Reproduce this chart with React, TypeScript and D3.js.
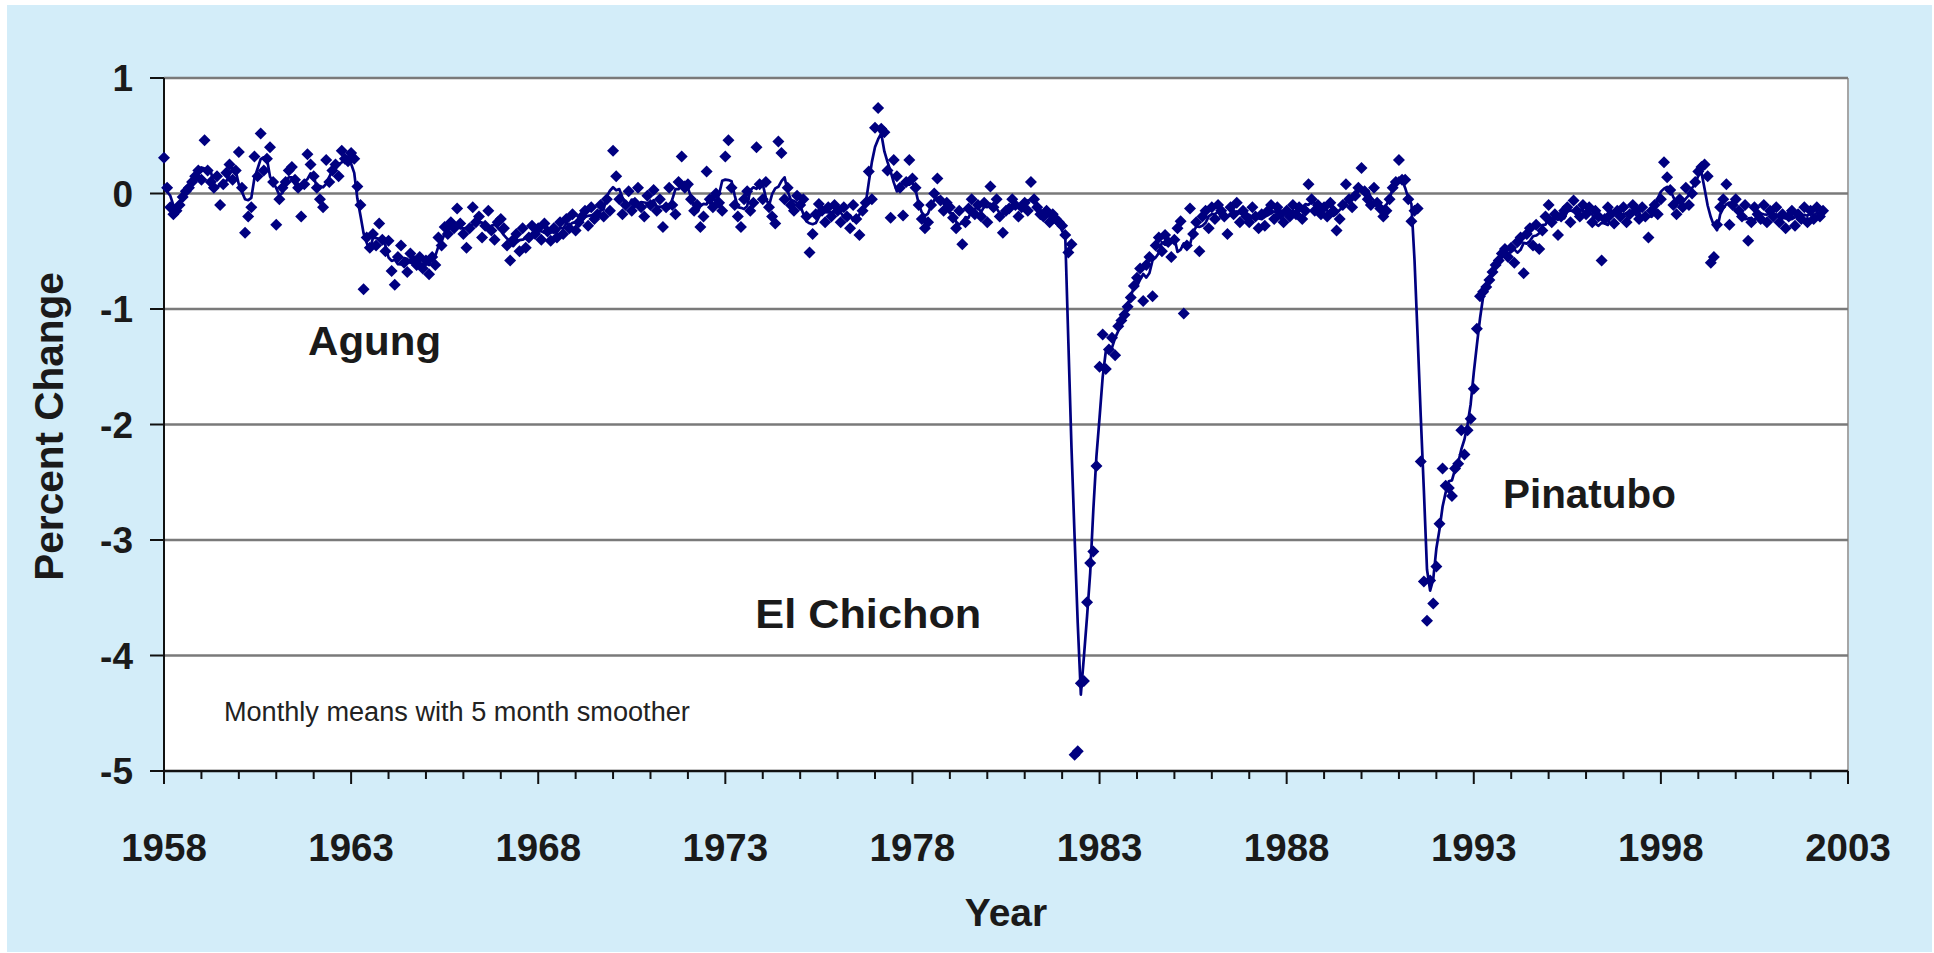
import React from 'react';
import * as d3 from 'd3';

// Mauna Loa apparent transmission, percent change, monthly means (Jan..Dec per row)
const FIRST_YEAR = 1958;

const means1958to1967 = [
  0.31, 0.05, -0.12, -0.18, -0.15, -0.10, -0.03, 0.02, 0.05, 0.10, 0.15, 0.20,
  0.12, 0.46, 0.20, 0.10, 0.05, 0.15, -0.10, 0.08, 0.18, 0.25, 0.12, 0.20,
  0.36, 0.05, -0.34, -0.20, -0.12, 0.32, 0.15, 0.52, 0.20, 0.30, 0.40, 0.10,
  -0.27, -0.05, 0.05, 0.10, 0.20, 0.23, 0.12, 0.05, -0.20, 0.08, 0.34, 0.25,
  0.15, 0.05, -0.05, -0.12, 0.29, 0.10, 0.20, 0.25, 0.15, 0.37, 0.30, 0.28,
  0.35, 0.30, 0.06, -0.10, -0.83, -0.38, -0.47, -0.35, -0.45, -0.26, -0.40, -0.50,
  -0.41, -0.67, -0.79, -0.55, -0.45, -0.60, -0.68, -0.52, -0.58, -0.62, -0.55, -0.65,
  -0.58, -0.70, -0.55, -0.62, -0.38, -0.45, -0.29, -0.35, -0.25, -0.30, -0.13, -0.26,
  -0.35, -0.47, -0.30, -0.12, -0.25, -0.20, -0.38, -0.28, -0.15, -0.32, -0.40, -0.25,
  -0.22, -0.30, -0.45, -0.58, -0.40, -0.35, -0.50, -0.30, -0.47, -0.38, -0.28, -0.35,
];

const means1968to1977 = [
  -0.30, -0.40, -0.26, -0.33, -0.41, -0.30, -0.38, -0.25, -0.35, -0.22, -0.30, -0.18,
  -0.32, -0.25, -0.20, -0.15, -0.28, -0.12, -0.22, -0.18, -0.10, -0.20, -0.05, -0.15,
  0.37, 0.15, -0.05, -0.18, -0.10, 0.02, -0.15, -0.08, 0.05, -0.12, -0.20, -0.02,
  -0.10, 0.03, -0.15, -0.05, -0.29, -0.12, 0.05, -0.10, -0.18, 0.10, 0.32, 0.05,
  0.08, -0.05, -0.15, -0.10, -0.29, -0.20, 0.19, -0.05, -0.12, 0.00, -0.08, -0.15,
  0.32, 0.46, 0.05, -0.10, -0.20, -0.29, -0.05, 0.02, -0.15, -0.08, 0.40, 0.08,
  -0.05, 0.10, -0.12, -0.20, -0.26, 0.45, 0.35, -0.05, 0.05, -0.10, -0.15, -0.02,
  -0.10, -0.05, -0.20, -0.51, -0.35, -0.18, -0.09, -0.15, -0.25, -0.12, -0.20, -0.10,
  -0.15, -0.25, -0.12, -0.20, -0.30, -0.10, -0.22, -0.36, -0.15, -0.08, 0.19, -0.05,
  0.57, 0.74, 0.56, 0.53, 0.20, -0.21, 0.29, 0.15, 0.05, -0.19, 0.10, 0.29,
];

const means1978to1987 = [
  0.13, 0.05, -0.10, -0.22, -0.30, -0.25, -0.10, 0.00, 0.13, -0.06, -0.15, -0.08,
  -0.12, -0.21, -0.30, -0.15, -0.44, -0.25, -0.13, -0.05, -0.18, -0.10, -0.20, -0.08,
  -0.25, 0.06, -0.12, -0.05, -0.20, -0.34, -0.15, -0.13, -0.05, -0.10, -0.20, -0.12,
  -0.08, -0.15, 0.10, -0.05, -0.12, -0.18, -0.20, -0.15, -0.25, -0.18, -0.22, -0.25,
  -0.28, -0.36, -0.51, -0.44, -4.86, -4.83, -4.24, -4.22, -3.54, -3.20, -3.10, -2.36,
  -1.50, -1.22, -1.52, -1.35, -1.25, -1.40, -1.15, -1.10, -1.05, -0.98, -0.90, -0.80,
  -0.73, -0.65, -0.93, -0.62, -0.55, -0.89, -0.45, -0.38, -0.50, -0.36, -0.42, -0.55,
  -0.40, -0.30, -0.24, -1.04, -0.45, -0.13, -0.35, -0.25, -0.50, -0.20, -0.15, -0.30,
  -0.12, -0.22, -0.10, -0.15, -0.20, -0.35, -0.12, -0.18, -0.08, -0.25, -0.15, -0.20,
  -0.25, -0.12, -0.20, -0.30, -0.18, -0.28, -0.15, -0.10, -0.22, -0.12, -0.18, -0.25,
];

const means1988to1997 = [
  -0.15, -0.20, -0.10, -0.18, -0.12, -0.22, -0.15, 0.08, -0.05, -0.15, -0.10, -0.18,
  -0.12, -0.20, -0.08, -0.15, -0.32, -0.22, -0.10, 0.08, -0.05, -0.12, -0.02, 0.05,
  0.22, 0.02, -0.05, -0.10, 0.05, -0.08, -0.13, -0.20, -0.15, -0.05, 0.05, 0.10,
  0.29, 0.12, 0.12, -0.05, -0.24, -0.15, -0.13, -2.32, -3.36, -3.70, -3.35, -3.55,
  -3.23, -2.86, -2.38, -2.53, -2.55, -2.62, -2.38, -2.34, -2.05, -2.26, -2.05, -1.95,
  -1.69, -1.17, -0.89, -0.85, -0.81, -0.75, -0.68, -0.62, -0.58, -0.52, -0.48, -0.55,
  -0.47, -0.60, -0.42, -0.38, -0.69, -0.35, -0.30, -0.45, -0.27, -0.48, -0.32, -0.20,
  -0.10, -0.25, -0.18, -0.36, -0.20, -0.15, -0.12, -0.25, -0.06, -0.15, -0.20, -0.10,
  -0.18, -0.12, -0.25, -0.15, -0.20, -0.58, -0.22, -0.12, -0.18, -0.26, -0.15, -0.20,
  -0.12, -0.25, -0.18, -0.10, -0.15, -0.22, -0.12, -0.20, -0.38, -0.15, -0.10, -0.18,
];

const means1998to2002 = [
  -0.05, 0.27, 0.14, 0.03, -0.10, -0.18, -0.05, -0.12, 0.05, -0.10, 0.00, 0.10,
  0.19, 0.23, 0.25, 0.15, -0.60, -0.55, -0.27, -0.12, -0.05, 0.08, -0.27, -0.10,
  -0.05, -0.15, -0.20, -0.10, -0.41, -0.25, -0.12, -0.18, -0.22, -0.10, -0.25, -0.15,
  -0.20, -0.12, -0.25, -0.18, -0.30, -0.20, -0.15, -0.28, -0.18, -0.22, -0.12, -0.25,
  -0.15, -0.22, -0.12, -0.20, -0.15,
];

const xTickYears = [1958, 1963, 1968, 1973, 1978, 1983, 1988, 1993, 1998, 2003];
const yTicks = [1, 0, -1, -2, -3, -4, -5];

const eruptionLabels = [
  { name: 'Agung', year: 1961.85, value: -1.4, width: 133 },
  { name: 'El Chichon', year: 1973.8, value: -3.76, width: 226 },
  { name: 'Pinatubo', year: 1993.78, value: -2.72, width: 173 },
];
const noteLabel = { text: 'Monthly means with 5 month smoother', year: 1959.6, value: -4.57 };

const W = 1934;
const H = 953;
const margin = { left: 164, right: 1848, top: 78, bottom: 771 };
const NAVY = '#000080';
const INK = '#1a1a1a';
const FONT = '"Liberation Sans", Arial, sans-serif';

interface Pt { year: number; value: number; }

export default function App() {
  const values = [...means1958to1967, ...means1968to1977, ...means1978to1987, ...means1988to1997, ...means1998to2002];
  const points: Pt[] = values.map((v, i) => ({ year: FIRST_YEAR + i / 12, value: v }));

  // 5 month running mean
  const smooth: Pt[] = points.map((p, i) => {
    const win = points.slice(Math.max(0, i - 2), i + 3);
    return { year: p.year, value: d3.mean(win, d => d.value) as number };
  });

  const x = d3.scaleLinear().domain([1958, 2003]).range([margin.left, margin.right]);
  const y = d3.scaleLinear().domain([-5, 1]).range([margin.bottom, margin.top]);

  const line = d3.line<Pt>().x(d => x(d.year)).y(d => y(d.value));
  const diamond = d3.symbol().type(d3.symbolSquare).size(72)() as string;

  const minorYears = d3.range(1958, 2004);

  return (
    <svg width={W} height={H} style={{ position: 'absolute', left: 0, top: 0 }} fontFamily={FONT}>
      <rect x={0} y={0} width={W} height={H} fill="#ffffff" />
      <rect x={7} y={5} width={W - 9} height={H - 6} fill="#d3edf9" />

      {/* plot area */}
      <rect x={margin.left} y={margin.top} width={margin.right - margin.left} height={margin.bottom - margin.top} fill="#ffffff" />
      <line x1={margin.right} x2={margin.right} y1={margin.top} y2={margin.bottom} stroke="#a6a6a6" strokeWidth={2} />

      {yTicks.filter(t => t > -5).map(t => (
        <line key={'g' + t} x1={margin.left} x2={margin.right} y1={y(t)} y2={y(t)} stroke="#7a7a7a" strokeWidth={2.6} />
      ))}

      {/* axes */}
      <line x1={margin.left} x2={margin.left} y1={margin.top} y2={margin.bottom} stroke="#111" strokeWidth={2} />
      <line x1={margin.left} x2={margin.right} y1={margin.bottom} y2={margin.bottom} stroke="#111" strokeWidth={2.5} />

      {yTicks.map(t => (
        <g key={'y' + t}>
          <line x1={margin.left - 14} x2={margin.left} y1={y(t)} y2={y(t)} stroke="#111" strokeWidth={2} />
          <text x={133} y={y(t)} dy="0.36em" textAnchor="end" fontSize={37} fontWeight="bold" fill={INK}>{t}</text>
        </g>
      ))}

      {minorYears.map(yr => {
        const major = (yr - 1958) % 5 === 0;
        return (
          <line key={'t' + yr} x1={x(yr)} x2={x(yr)} y1={margin.bottom} y2={margin.bottom + (major ? 13 : 8)} stroke="#111" strokeWidth={2} />
        );
      })}
      {xTickYears.map(yr => (
        <text key={'x' + yr} x={x(yr)} y={861} textAnchor="middle" fontSize={38.5} fontWeight="bold" fill={INK}>{yr}</text>
      ))}

      <text x={(margin.left + margin.right) / 2} y={926} textAnchor="middle" fontSize={39} fontWeight="bold" fill={INK}>Year</text>
      <text transform={`translate(63, ${(margin.top + margin.bottom) / 2 + 2}) rotate(-90)`} textAnchor="middle" fontSize={40.5} fontWeight="bold" fill={INK}>Percent Change</text>

      {/* smoother */}
      <path d={line(smooth) as string} fill="none" stroke={NAVY} strokeWidth={2.7} strokeLinejoin="round" />

      {/* monthly means */}
      {points.map((p, i) => (
        <path key={i} d={diamond} transform={`translate(${x(p.year)},${y(p.value)}) rotate(45)`} fill={NAVY} />
      ))}

      {eruptionLabels.map(l => (
        <text key={l.name} x={x(l.year)} y={y(l.value)} fontSize={41} fontWeight="bold" fill={INK}
          textLength={l.width} lengthAdjust="spacingAndGlyphs">{l.name}</text>
      ))}
      <text x={x(noteLabel.year)} y={y(noteLabel.value)} fontSize={27} fill="#222"
        textLength={466} lengthAdjust="spacingAndGlyphs">{noteLabel.text}</text>
    </svg>
  );
}
